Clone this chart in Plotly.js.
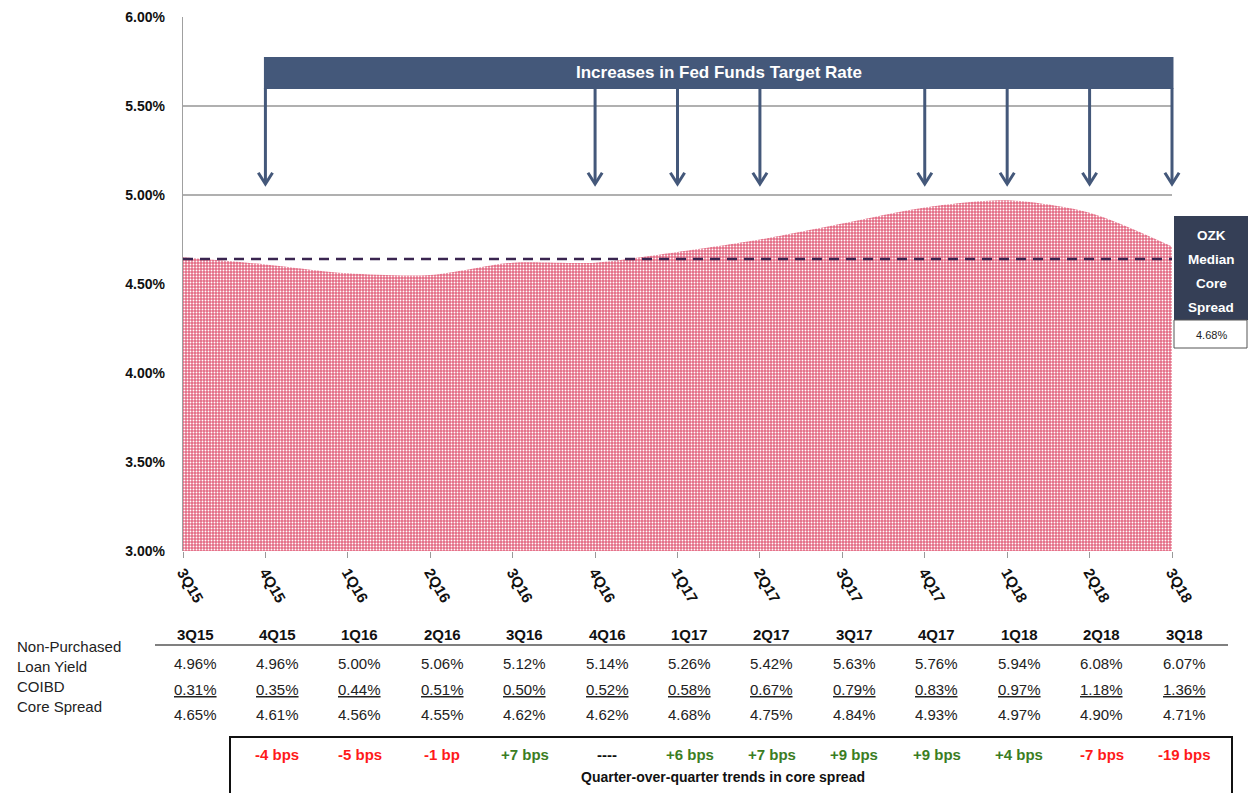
<!DOCTYPE html>
<html>
<head>
<meta charset="utf-8">
<script src="https://cdn.plot.ly/plotly-3.0.1.min.js"></script>
<style>html,body{margin:0;padding:0;background:#fff;}#chart{width:1248px;height:793px;}</style>
</head>
<body>
<div id="chart"></div>
<script>
// ---- data ----
var quarters = ["3Q15","4Q15","1Q16","2Q16","3Q16","4Q16","1Q17","2Q17","3Q17","4Q17","1Q18","2Q18","3Q18"];
var loanYield = ["4.96%","4.96%","5.00%","5.06%","5.12%","5.14%","5.26%","5.42%","5.63%","5.76%","5.94%","6.08%","6.07%"];
var coibd = ["0.31%","0.35%","0.44%","0.51%","0.50%","0.52%","0.58%","0.67%","0.79%","0.83%","0.97%","1.18%","1.36%"];
var coreSpread = [4.65, 4.61, 4.56, 4.55, 4.62, 4.62, 4.68, 4.75, 4.84, 4.93, 4.97, 4.90, 4.71];
var qoqChange = ["", "-4 bps", "-5 bps", "-1 bp", "+7 bps", "----", "+6 bps", "+7 bps", "+9 bps", "+9 bps", "+4 bps", "-7 bps", "-19 bps"];
var fedHikeQuarters = ["4Q15","4Q16","1Q17","2Q17","4Q17","1Q18","2Q18","3Q18"];
var medianLine = 4.64;
var medianLabel = "4.68%";
var rowLabels = ["Non-Purchased", "Loan Yield", "COIBD", "Core Spread"];
var bannerText = "Increases in Fed Funds Target Rate";
var medianBoxLines = ["OZK", "Median", "Core", "Spread"];
var trendCaption = "Quarter-over-quarter trends in core spread";

// ---- build ----
var idx = quarters.map(function(q, i){ return i; });
var navy = "#44587a";
var font = "Arial, 'Liberation Sans', sans-serif";
var yMin = 3, yMax = 6;
var lastIdx = quarters.length - 1;

// plot area in pixels
var PL = 183, PR = 1172, PT = 17, PB = 551;
function px(v){ return (v - PL) / (PR - PL); }
function py(v){ return (PB - v) / (PB - PT); }
// data -> paper fractions (so shapes are not clipped at the plot edge)
function dx(i){ return i / lastIdx; }
function dy(v){ return (v - yMin) / (yMax - yMin); }

var trace = {
  x: idx, y: coreSpread, type: "scatter", mode: "lines",
  line: {shape: "spline", smoothing: 0.8, width: 0, color: "#e46f88"},
  fill: "tozeroy",
  fillcolor: "#e98499",
  fillpattern: {shape: ".", fgcolor: "#ffffff", bgcolor: "#e46a84", size: 3, solidity: 0.3},
  hoverinfo: "skip", showlegend: false
};

var shapes = [];
var annotations = [];

// banner
var firstHike = quarters.indexOf(fedHikeQuarters[0]);
shapes.push({type: "rect", xref: "paper", yref: "paper", x0: dx(firstHike) - 0.0015, x1: dx(lastIdx) + 0.0015, y0: dy(5.596), y1: dy(5.775),
  fillcolor: navy, line: {width: 0}, layer: "above"});
annotations.push({xref: "x", yref: "y", x: (firstHike + lastIdx) / 2, y: 5.686, text: "<b>" + bannerText + "</b>",
  showarrow: false, font: {family: font, size: 17, color: "#ffffff"}});

// arrows
fedHikeQuarters.forEach(function(q){
  var i = quarters.indexOf(q);
  var xc = dx(i), w = 0.0072;
  shapes.push({type: "line", xref: "paper", yref: "paper", x0: xc, x1: xc, y0: dy(5.60), y1: dy(5.065),
    line: {color: navy, width: 3}, layer: "above"});
  shapes.push({type: "path", xref: "paper", yref: "paper",
    path: "M " + (xc - w) + " " + dy(5.125) + " L " + xc + " " + dy(5.062) + " L " + (xc + w) + " " + dy(5.125),
    line: {color: navy, width: 3}, layer: "above"});
});

// median dashed line
shapes.push({type: "line", xref: "x", yref: "y", x0: 0, x1: lastIdx, y0: medianLine, y1: medianLine,
  line: {color: "#3a2550", width: 2.5, dash: "10px,7px"}, layer: "above"});

// median box (right)
shapes.push({type: "rect", xref: "paper", yref: "paper", x0: px(1174), x1: px(1248), y0: py(320), y1: py(216),
  fillcolor: "#353f56", line: {width: 0}});
shapes.push({type: "rect", xref: "paper", yref: "paper", x0: px(1174), x1: px(1247), y0: py(348), y1: py(320),
  fillcolor: "#ffffff", line: {color: "#555555", width: 1}});
var boxYs = [235, 259, 283, 307];
medianBoxLines.forEach(function(t, k){
  annotations.push({xref: "paper", yref: "paper", x: px(1211), y: py(boxYs[k]), text: "<b>" + t + "</b>",
    showarrow: false, xanchor: "center", yanchor: "middle", font: {family: font, size: 13.5, color: "#ffffff"}});
});
annotations.push({xref: "paper", yref: "paper", x: px(1211), y: py(335), text: medianLabel,
  showarrow: false, xanchor: "center", yanchor: "middle", font: {family: font, size: 11, color: "#222222"}});

// table
var rowY = {head: 634, ly: 663, co: 689, cs: 715, bps: 754, cap: 777};
quarters.forEach(function(q, i){
  var base = {xref: "x", yref: "paper", x: i, xshift: 12, showarrow: false, xanchor: "center", yanchor: "middle"};
  annotations.push(Object.assign({}, base, {y: py(rowY.head), text: "<b>" + q + "</b>", font: {family: font, size: 15, color: "#111"}}));
  annotations.push(Object.assign({}, base, {y: py(rowY.ly), text: loanYield[i], font: {family: font, size: 15, color: "#222"}}));
  annotations.push(Object.assign({}, base, {y: py(rowY.co), text: "<span style='text-decoration:underline'>" + coibd[i] + "</span>", font: {family: font, size: 15, color: "#222"}}));
  annotations.push(Object.assign({}, base, {y: py(rowY.cs), text: coreSpread[i].toFixed(2) + "%", font: {family: font, size: 15, color: "#222"}}));
  var c = qoqChange[i];
  if (c) {
    var col = c.charAt(0) === "-" && c !== "----" ? "#ff1a1a" : (c.charAt(0) === "+" ? "#3b7d23" : "#111111");
    annotations.push(Object.assign({}, base, {y: py(rowY.bps), text: "<b>" + c + "</b>", font: {family: font, size: 15, color: col}}));
  }
});
var labelYs = [646, 666, 686, 706];
rowLabels.forEach(function(t, k){
  annotations.push({xref: "paper", yref: "paper", x: px(15), y: py(labelYs[k]), text: t, showarrow: false,
    xanchor: "left", yanchor: "middle", font: {family: font, size: 15, color: "#222"}});
});
annotations.push({xref: "paper", yref: "paper", x: px(723), y: py(rowY.cap), text: "<b>" + trendCaption + "</b>",
  showarrow: false, xanchor: "center", yanchor: "middle", font: {family: font, size: 14, color: "#111"}});

// header underline & trend box
shapes.push({type: "line", xref: "paper", yref: "paper", x0: px(155), x1: px(1228), y0: py(645), y1: py(645),
  line: {color: "#808080", width: 2}});
shapes.push({type: "rect", xref: "paper", yref: "paper", x0: px(230), x1: px(1232), y0: py(800), y1: py(737),
  line: {color: "#111111", width: 2}, fillcolor: "rgba(0,0,0,0)"});

var layout = {
  width: 1248, height: 793,
  margin: {l: 183, r: 76, t: 17, b: 242, pad: 0},
  paper_bgcolor: "#ffffff", plot_bgcolor: "#ffffff",
  showlegend: false,
  font: {family: font},
  xaxis: {
    range: [0, lastIdx], tickvals: idx, ticktext: quarters, tickangle: 60,
    ticks: "outside", ticklen: 6, tickcolor: "#999", tickwidth: 1,
    showgrid: false, zeroline: false, showline: false,
    tickfont: {family: font, size: 15, color: "#111", weight: "bold"}, fixedrange: true
  },
  yaxis: {
    range: [yMin, yMax], dtick: 0.5, tick0: 3, tickformat: ".2f", ticksuffix: "%",
    showgrid: true, gridcolor: "#b0b0b0", gridwidth: 1.2, zeroline: false,
    showline: true, linecolor: "#a0a0a0", linewidth: 1.2, ticks: "",
    ticklabelstandoff: 14,
    tickfont: {family: font, size: 14, color: "#111", weight: "bold"}, fixedrange: true
  },
  shapes: shapes,
  annotations: annotations
};

Plotly.newPlot("chart", [trace], layout, {displayModeBar: false, staticPlot: true});
</script>
</body>
</html>
